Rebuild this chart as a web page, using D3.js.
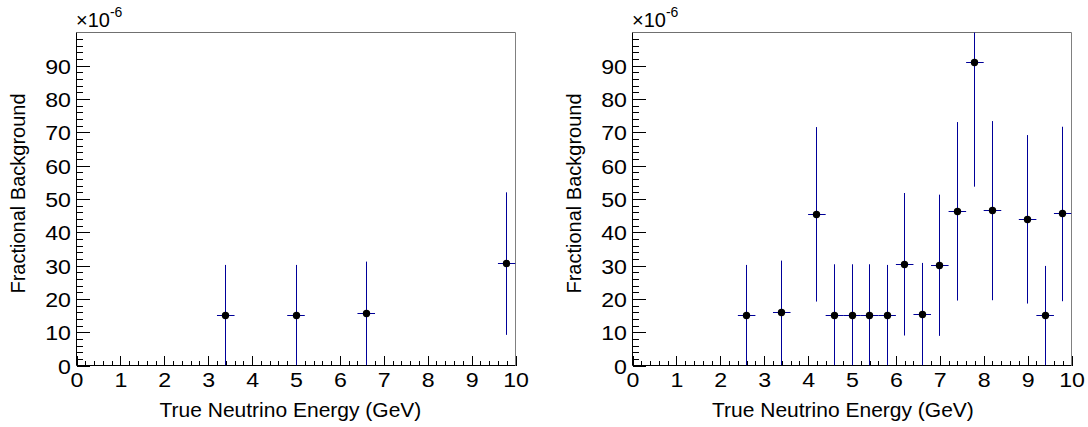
<!DOCTYPE html>
<html>
<head>
<meta charset="utf-8">
<script src="https://cdn.jsdelivr.net/npm/d3@7"></script>
<style>
  html, body { margin: 0; padding: 0; background: #fff; }
  svg { display: block; }
  text { font-family: "Liberation Sans", Arial, Helvetica, sans-serif; fill: #000; }
</style>
</head>
<body>
<svg id="chart" width="1088" height="427"></svg>
<script>
// ---------- data (values in units of 1e-6) ----------
const xTickLabels = ["0","1","2","3","4","5","6","7","8","9","10"];
const yTickLabels = ["0","10","20","30","40","50","60","70","80","90"];
const binWidth = 0.4;

const leftCenters = [3.4, 5.0, 6.6, 9.8];
const leftValues  = [15.1, 15.1, 15.6, 30.6];
const leftErrors  = [15.1, 15.1, 15.6, 21.4];

const rightCenters = [2.6, 3.4, 4.2, 4.6, 5.0, 5.4, 5.8, 6.2, 6.6, 7.0, 7.4, 7.8, 8.2, 9.0, 9.4, 9.8];
const rightValues  = [15.1, 15.8, 45.4, 15.1, 15.1, 15.1, 15.1, 30.4, 15.3, 30.1, 46.3, 90.9, 46.5, 43.9, 14.9, 45.5];
const rightErrors  = [15.1, 15.7, 26.2, 15.3, 15.3, 15.3, 15.1, 21.4, 15.5, 21.2, 26.8, 37.2, 26.9, 25.3, 15.0, 26.2];

const xTitle = "True Neutrino Energy (GeV)";
const yTitle = "Fractional Background";

// ---------- drawing ----------
const svg = d3.select("#chart");
const errColor = "#000099";
const FS = 20;
const LBL = 20.5, LBLX = 1.13;
const px = v => Math.round(v - 0.5) + 0.5;

const panels = [
  {x0: 76.5, x1: 515.5, centers: leftCenters, values: leftValues, errors: leftErrors, xTitleX: 159.5, yTitleX: 24.5},
  {x0: 632.5, x1: 1071.5, centers: rightCenters, values: rightValues, errors: rightErrors, xTitleX: 712, yTitleX: 581}
];
const yTop = 32.5, yBot = 365.5;

panels.forEach((p, pi) => {
  const x = d3.scaleLinear().domain([0, 10]).range([p.x0, p.x1]);
  const y = d3.scaleLinear().domain([0, 100]).range([yBot, yTop]);
  const g = svg.append("g");

  const clipId = "clip" + pi;
  svg.append("clipPath").attr("id", clipId).append("rect")
    .attr("x", p.x0).attr("y", yTop).attr("width", p.x1 - p.x0).attr("height", yBot - yTop);

  // frame top/right
  g.append("line").attr("x1", p.x0).attr("x2", p.x1).attr("y1", yTop).attr("y2", yTop)
    .attr("stroke", "#707070").attr("stroke-width", 1);
  g.append("line").attr("x1", p.x1).attr("x2", p.x1).attr("y1", yTop).attr("y2", yBot)
    .attr("stroke", "#808080").attr("stroke-width", 1);

  // x axis (ticks pointing up, inside)
  const xMinor = d3.range(0, 10.0001, 0.2).filter(v => Math.abs(v - Math.round(v)) > 1e-6);
  const xAxisMinor = d3.axisBottom(x).tickValues(xMinor).tickSize(-5).tickFormat("");
  const xAxis = d3.axisBottom(x).tickValues(xTickLabels.map(Number)).tickSize(-10)
    .tickFormat((d, i) => xTickLabels[i]).tickPadding(0);
  const gxm = g.append("g").attr("transform", `translate(0,${yBot})`).call(xAxisMinor);
  const gx = g.append("g").attr("transform", `translate(0,${yBot})`).call(xAxis);
  [gxm, gx].forEach(a => {
    a.select(".domain").remove();
    a.selectAll("line").attr("stroke", "#000").attr("shape-rendering", "crispEdges");
  });
  gx.selectAll("text").attr("font-size", LBL).attr("y", 0).attr("dy", 21.5)
    .attr("transform", `scale(${LBLX},1)`)
    .attr("fill", "#000").style("font-family", "'Liberation Sans', Arial, sans-serif");

  // y axis (ticks pointing right, inside)
  const yMinor = d3.range(0, 100.001, 2).filter(v => v % 10 !== 0);
  const yAxisMinor = d3.axisLeft(y).tickValues(yMinor).tickSize(-6.7).tickFormat("");
  const yAxis = d3.axisLeft(y).tickValues(yTickLabels.map(Number)).tickSize(-13.3)
    .tickFormat((d, i) => yTickLabels[i]);
  const gym = g.append("g").attr("transform", `translate(${p.x0},0)`).call(yAxisMinor);
  const gy = g.append("g").attr("transform", `translate(${p.x0},0)`).call(yAxis);
  [gym, gy].forEach(a => {
    a.select(".domain").remove();
    a.selectAll("line").attr("stroke", "#000").attr("shape-rendering", "crispEdges");
  });
  gy.selectAll("text").attr("font-size", LBL).attr("x", 0).attr("dy", 7.5)
    .attr("transform", `translate(-5.5,0) scale(${LBLX},1)`)
    .attr("fill", "#000").style("font-family", "'Liberation Sans', Arial, sans-serif");

  // axis lines
  g.append("line").attr("x1", p.x0).attr("x2", p.x1).attr("y1", yBot).attr("y2", yBot)
    .attr("stroke", "#000");
  g.append("line").attr("x1", p.x0).attr("x2", p.x0).attr("y1", yTop).attr("y2", yBot)
    .attr("stroke", "#000");

  // exponent label
  const ex = g.append("text").attr("x", p.x0 - 0.5).attr("y", 26.5).attr("font-size", FS);
  ex.append("tspan").text("\u00d710");
  ex.append("tspan").attr("font-size", 14).attr("dy", -10).text("-6");

  // titles
  g.append("text").attr("x", p.xTitleX).attr("y", 416.5).attr("font-size", 21).text(xTitle);
  g.append("text").attr("transform", `translate(${p.yTitleX},${193.5}) rotate(-90)`)
    .attr("text-anchor", "middle").attr("font-size", FS).text(yTitle);

  // data points
  const data = p.centers.map((c, i) => ({c, v: p.values[i], e: p.errors[i]}));
  const dg = g.append("g").attr("clip-path", `url(#${clipId})`);
  dg.selectAll("line.h").data(data).join("line").attr("class", "h")
    .attr("x1", d => x(d.c - binWidth / 2)).attr("x2", d => x(d.c + binWidth / 2))
    .attr("y1", d => px(y(d.v))).attr("y2", d => px(y(d.v)))
    .attr("stroke", errColor).attr("stroke-width", 1);
  dg.selectAll("line.v").data(data).join("line").attr("class", "v")
    .attr("x1", d => px(x(d.c))).attr("x2", d => px(x(d.c)))
    .attr("y1", d => y(Math.max(0, d.v - d.e))).attr("y2", d => y(Math.min(105, d.v + d.e)))
    .attr("stroke", errColor).attr("stroke-width", 1);
  dg.selectAll("circle").data(data).join("circle")
    .attr("cx", d => px(x(d.c))).attr("cy", d => px(y(d.v))).attr("r", 3.7).attr("fill", "#000");
});
</script>
</body>
</html>
